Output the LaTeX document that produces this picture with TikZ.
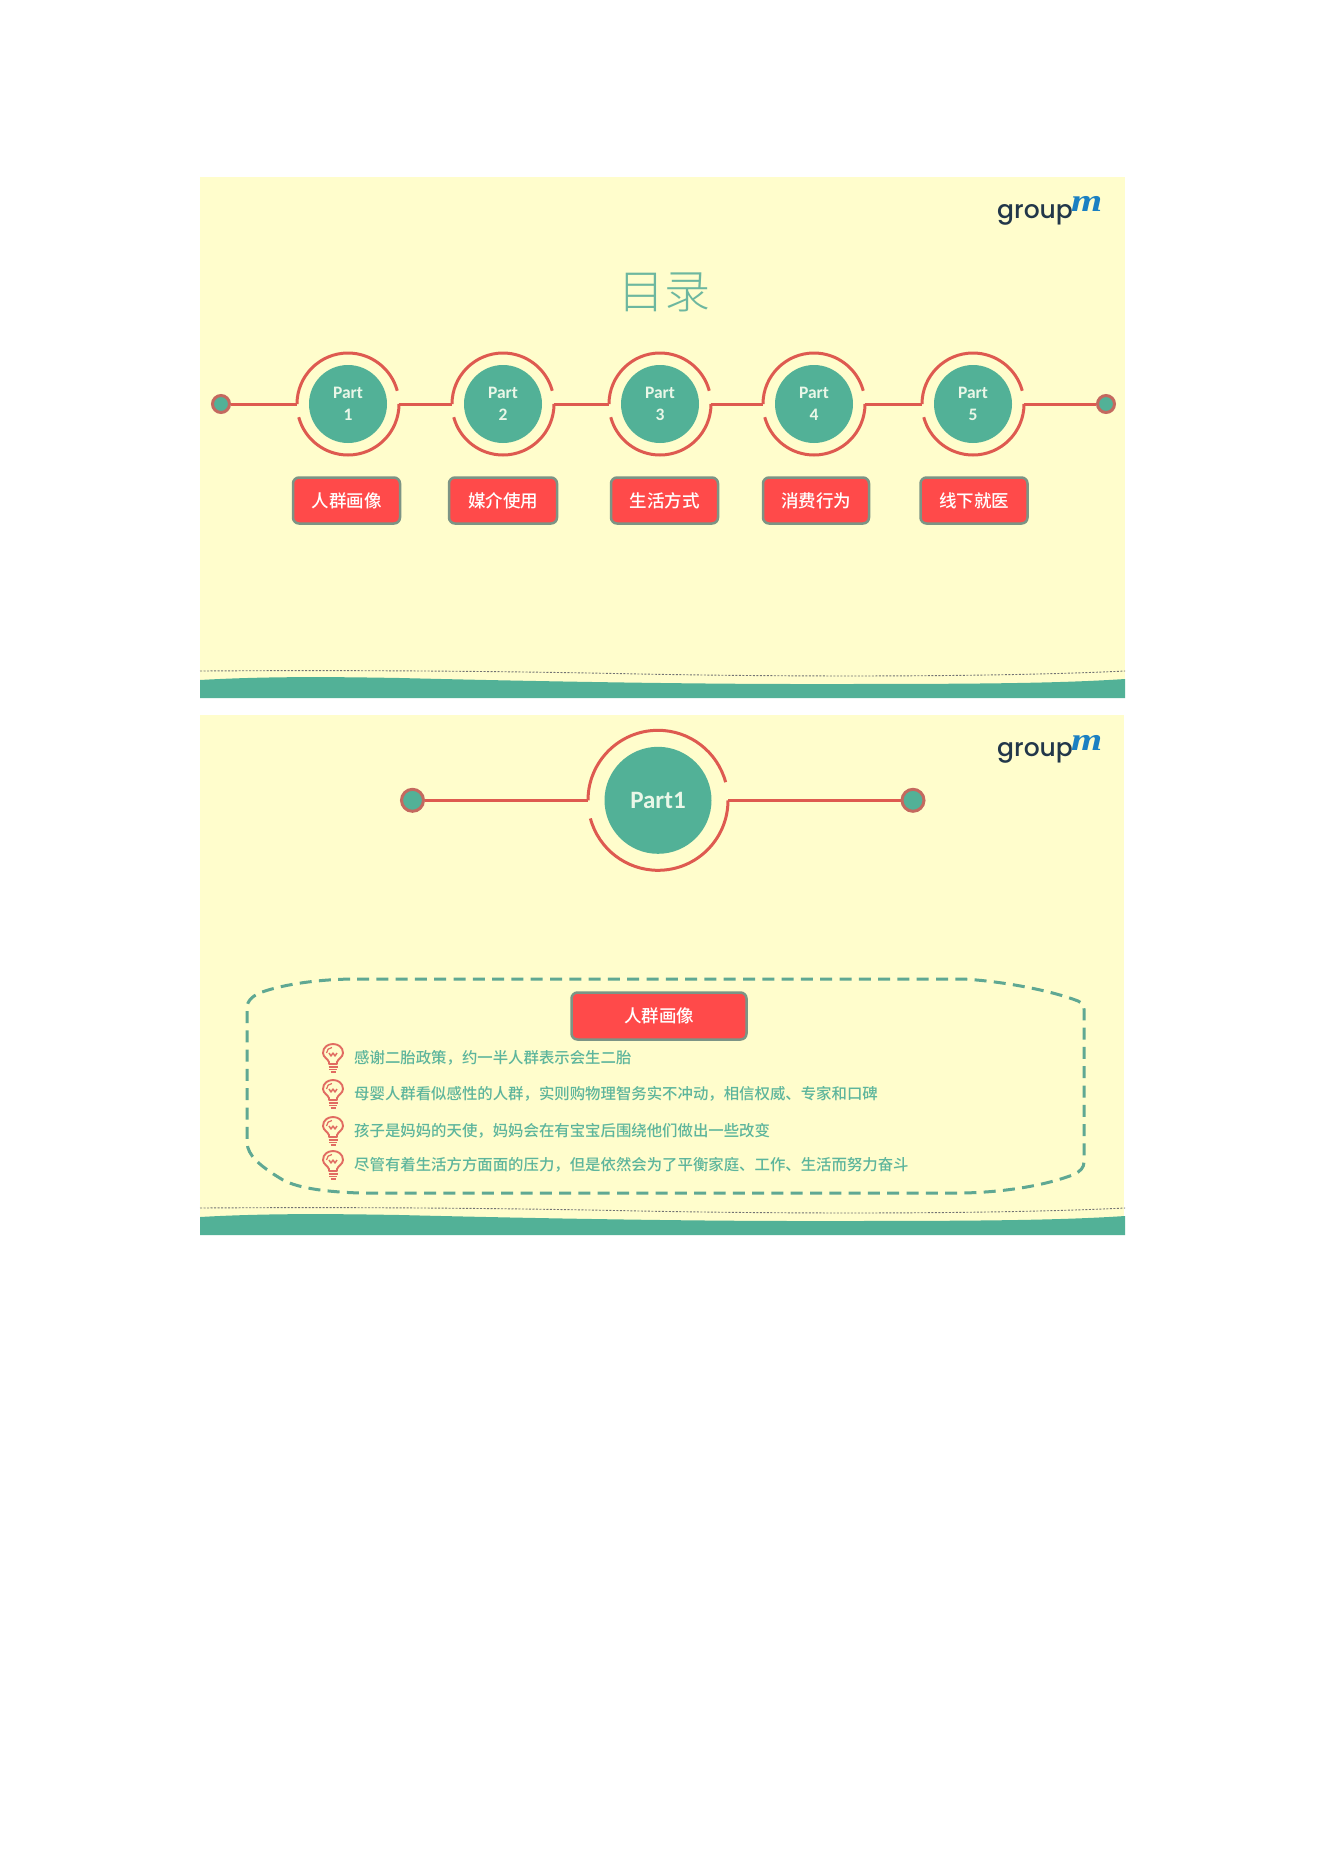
\documentclass[tikz,border=0pt]{standalone}
\usepackage{fontspec}
\setmainfont{Carlito}
\newfontfamily\cjk{Noto Sans CJK SC Medium}
\newfontfamily\cjklight{Noto Sans CJK SC Light}
\newfontfamily\logofont{Poppins Medium}
\newfontfamily\logoital{Liberation Serif}
\usetikzlibrary{calc}
\definecolor{slidebg}{HTML}{FFFDCC}
\definecolor{tealfill}{HTML}{52B197}
\definecolor{ringred}{HTML}{DE5A50}
\definecolor{dotedge}{HTML}{C4695F}
\definecolor{boxred}{HTML}{FF4A4A}
\definecolor{boxedge}{HTML}{7C9485}
\definecolor{dashteal}{HTML}{5FA893}
\definecolor{bodyteal}{HTML}{5DB59C}
\definecolor{titleteal}{HTML}{6DB79F}
\definecolor{logodark}{HTML}{22374A}
\definecolor{logoblue}{HTML}{1B80C2}
\definecolor{disctext}{HTML}{EAF7E8}
\newcommand{\partlabel}[2]{\raisebox{-2pt}{#1}\\\raisebox{-2pt}{#2}}
\newcommand{\boxlabel}[1]{\raisebox{-1.2pt}{#1}}
\tikzset{
  slide/.style={fill=slidebg,draw=none},
  ringline/.style={draw=ringred,line width=3pt},
  disc/.style={circle,fill=tealfill,draw=none,inner sep=0pt,text=disctext,align=center,font=\fontsize{#1}{22}\selectfont\bfseries},
  enddot/.style={circle,fill=tealfill,draw=dotedge,line width=3pt,inner sep=0pt},
  redbox/.style={rectangle,rounded corners=6pt,fill=boxred,draw=boxedge,line width=2.5pt,inner sep=0pt,text=white,font=\cjk\fontsize{17.5}{20}\selectfont},
  bodytext/.style={anchor=west,inner sep=0pt,text=bodyteal,font=\cjk\fontsize{15.4}{18}\selectfont},
  logotext/.style={anchor=base west,inner sep=0pt,text=logodark,font=\logofont\fontsize{25}{28}\selectfont},
  logom/.style={anchor=base west,inner sep=0pt,text=logoblue,font=\logoital\bfseries\itshape\fontsize{32}{34}\selectfont},
  bulbline/.style={draw=ringred!90!white,line width=1.9pt,line join=round},
  footer/.pic={
    \fill[tealfill] (200,680) .. controls (270,676) and (340,677) .. (400,678)
      .. controls (520,681) and (680,684) .. (802,684)
      .. controls (950,684) and (1050,684) .. (1125,679) -- (1125,698) -- (200,698) -- cycle;
    \draw[black!55,line width=0.9pt,dash pattern=on 2pt off 1.5pt] (200,671)
      .. controls (350,670) and (500,671) .. (640,674)
      .. controls (800,677) and (1000,677) .. (1125,671);
  },
  bulb/.pic={
    \draw[bulbline] (-4,6) -- (-4,4) .. controls (-5,1) and (-10,-1) .. (-10,-5)
      .. controls (-10,-11) and (-5,-14) .. (0,-14)
      .. controls (5,-14) and (10,-11) .. (10,-5)
      .. controls (10,-1) and (5,1) .. (4,4) -- (4,6) -- cycle;
    \draw[bulbline,line width=1.2pt] (-6.5,-5) .. controls (-6.5,-8) and (-4,-10.5) .. (-1,-10.5);
    \draw[bulbline,line width=1.5pt] (-4,-5) -- (-2,-2) -- (0,-5) -- (2,-2) -- (4,-5);
    \draw[bulbline] (-4.5,9) -- (4.5,9) (-4,11.5) -- (4,11.5) (-2.5,14) -- (2.5,14);
  }
}
\begin{document}
\begin{tikzpicture}[x=1pt,y=-1pt]
\useasboundingbox (0,0) rectangle (1323,1871);
\fill[white] (0,0) rectangle (1323,1871);
% slide 1
\fill[slide] (200,177) rectangle (1125,698);
\pic at (0,0) {footer};
\node[logotext] (logoA) at (997,218.5) {group};
\node[logom] (logoAm) at (1071,211) {\scalebox{1.25}[1]{m}};
\node[inner sep=0pt,text=titleteal,font=\cjklight\fontsize{46}{48}\selectfont] (title) at (664.5,292.5) {目录};
\foreach \i/\cx/\lbl/\num/\bx/\bw in {
  1/348/人群画像/1/346.5/107,
  2/503/媒介使用/2/503/108,
  3/660/生活方式/3/664.5/107,
  4/814/消费行为/4/816/106,
  5/973/线下就医/5/974/107}{
  \node[disc=17.5,minimum size=78pt] (d\i) at (\cx,404) {\partlabel{Part}{\num}};
  \coordinate (w\i) at ($(d\i)+(-51,0)$);
  \coordinate (e\i) at ($(d\i)+(51,0)$);
  \draw[ringline] (w\i) arc[start angle=180,end angle=15,radius=51pt];
  \draw[ringline] (e\i) arc[start angle=0,end angle=-165,radius=51pt];
  \node[redbox,minimum width=\bw pt,minimum height=46pt] (b\i) at (\bx,500.5) {\boxlabel{\lbl}};
}
\node[enddot,minimum size=17pt] (dotL) at (221,404) {};
\node[enddot,minimum size=17pt] (dotR) at (1106,404) {};
\draw[ringline] (dotL) -- (w1);
\draw[ringline] (e1) -- (w2);
\draw[ringline] (e2) -- (w3);
\draw[ringline] (e3) -- (w4);
\draw[ringline] (e4) -- (w5);
\draw[ringline] (e5) -- (dotR);
% slide 2
\fill[slide] (200,715) rectangle (1124,1235);
\pic at (0,537) {footer};
\node[logotext] (logoB) at (997,756.5) {group};
\node[logom] (logoBm) at (1071,750) {\scalebox{1.25}[1]{m}};
\node[disc=25,minimum size=107pt] (big) at (658,800.3) {Part1};
\coordinate (bigW) at ($(big)+(-70,0)$);
\coordinate (bigE) at ($(big)+(70,0)$);
\draw[ringline] (bigW) arc[start angle=180,end angle=15,radius=70pt];
\draw[ringline] (bigE) arc[start angle=0,end angle=-165,radius=70pt];
\node[enddot,minimum size=22pt] (dotBL) at (412.5,800.3) {};
\node[enddot,minimum size=22pt] (dotBR) at (913,800.3) {};
\draw[ringline] (dotBL) -- (bigW);
\draw[ringline] (bigE) -- (dotBR);
\draw[draw=dashteal,line width=3pt,dash pattern=on 12pt off 7.3pt]
  (357,979) -- (963,979)
  .. controls (1000,981) and (1050,990) .. (1078,1001)
  .. controls (1082,1003) and (1084,1005) .. (1084,1009)
  -- (1084,1162)
  .. controls (1084,1168) and (1080,1171) .. (1075,1174)
  .. controls (1050,1184) and (1010,1192) .. (963,1193)
  -- (360,1193)
  .. controls (330,1192) and (300,1189) .. (283,1180)
  .. controls (258,1165) and (248,1155) .. (247,1143)
  -- (247,1008)
  .. controls (247,1000) and (254,995) .. (262,992)
  .. controls (285,984) and (320,979) .. (357,979) -- cycle;
\node[redbox,minimum width=175pt,minimum height=47pt] (boxB) at (659,1016) {\boxlabel{人群画像}};
\foreach \k/\y/\t in {
  1/1058/感谢二胎政策，约一半人群表示会生二胎,
  2/1094/母婴人群看似感性的人群，实则购物理智务实不冲动，相信权威、专家和口碑,
  3/1131/孩子是妈妈的天使，妈妈会在有宝宝后围绕他们做出一些改变,
  4/1165/尽管有着生活方方面面的压力，但是依然会为了平衡家庭、工作、生活而努力奋斗}{
  \pic at (333,\y) {bulb};
  \node[bodytext] (line\k) at (354,\y) {\t};
}
\end{tikzpicture}
\end{document}
